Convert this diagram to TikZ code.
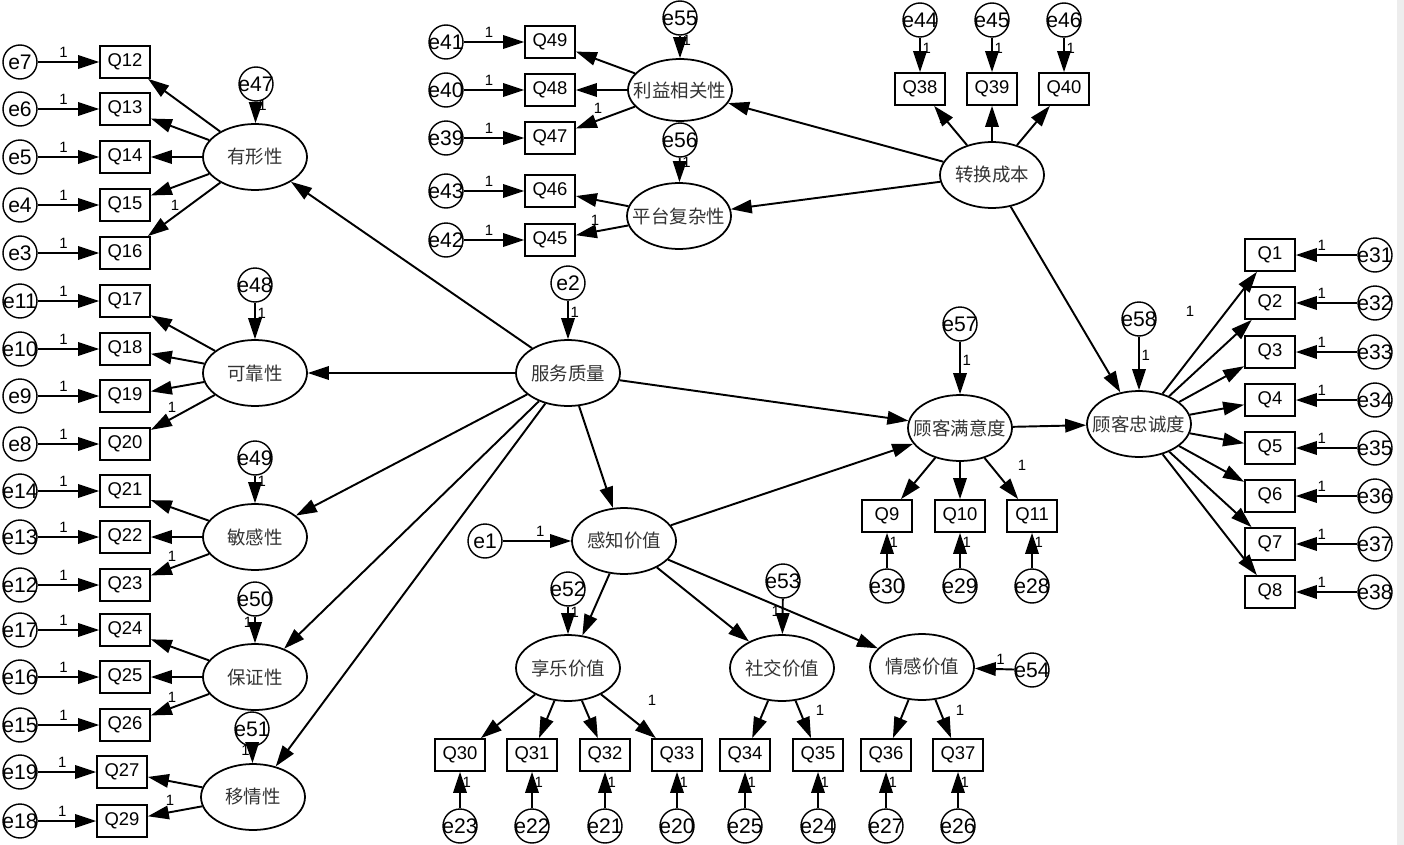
\documentclass[tikz,border=0pt]{standalone}
\usepackage{fontspec}
\setmainfont{Liberation Sans}
\newfontfamily\cjk{Noto Sans CJK SC}
\usetikzlibrary{shapes.geometric,arrows.meta}
\newcommand{\zw}[1]{\makebox[0pt]{#1}}
\tikzset{
  obs/.style={draw, rectangle, line width=1pt, minimum width=1cm, minimum height=0.64cm, inner sep=0pt, font=\fontsize{10.5}{12}\selectfont},
  err/.style={draw, circle, line width=0.8pt, minimum size=0.68cm, inner sep=0pt, font=\fontsize{12}{14}\selectfont},
  lat/.style={draw, ellipse, line width=1pt, minimum width=2.08cm, minimum height=1.32cm, inner sep=0pt, text=black!80, font=\cjk\fontsize{10.5}{12}\selectfont},
  one/.style={font=\fontsize{8.5}{9}\selectfont, inner sep=0pt},
  reg/.style={-{Triangle[length=4.2mm,width=2.7mm]}, line width=1.1pt},
}
\begin{document}
\begin{tikzpicture}[x=0.02cm, y=-0.02cm]
\useasboundingbox (0,0) rectangle (1404,845);
\fill[black!7] (1397,0) rectangle (1404,845);

% latent variables
\node[lat] (tangible) at (255,157) {\zw{有形性}};
\node[lat] (reliable) at (255,373) {\zw{可靠性}};
\node[lat] (sensitive) at (255,537) {\zw{敏感性}};
\node[lat] (assure) at (255,677) {\zw{保证性}};
\node[lat] (empathy) at (253,797) {\zw{移情性}};
\node[lat] (servq) at (568,373) {\zw{服务质量}};
\node[lat] (perval) at (624,541) {\zw{感知价值}};
\node[lat] (hedon) at (568,668) {\zw{享乐价值}};
\node[lat] (social) at (782,668) {\zw{社交价值}};
\node[lat] (emot) at (922,667) {\zw{情感价值}};
\node[lat] (satisf) at (960,428) {\zw{顾客满意度}};
\node[lat] (loyal) at (1139,424) {\zw{顾客忠诚度}};
\node[lat] (switch) at (992,175) {\zw{转换成本}};
\node[lat, minimum height=1.24cm] (benefit) at (680,90) {\zw{利益相关性}};
\node[lat] (complex) at (679,216) {\zw{平台复杂性}};

% left indicators
\foreach \q/\e/\y in {12/7/62, 13/6/109, 14/5/157, 15/4/205, 16/3/253, 17/11/301, 18/10/349, 19/9/396, 20/8/444, 21/14/491, 22/13/537, 23/12/585, 24/17/630, 25/16/677, 26/15/725}{
  \node[obs] (Q\q) at (125,\y) {Q\q};
  \node[err] (e\e) at (20,\y) {\zw{e\e}};
  \draw[reg] (e\e) -- node[one, above=2pt, pos=0.42] (w\e) {1} (Q\q);
}
\foreach \q/\e/\y in {27/19/772, 29/18/821}{
  \node[obs] (Q\q) at (122,\y) {Q\q};
  \node[err] (e\e) at (20,\y) {\zw{e\e}};
  \draw[reg] (e\e) -- node[one, above=2pt, pos=0.42] (w\e) {1} (Q\q);
}
\foreach \q in {12,...,16} \draw[reg] (tangible) -- (Q\q);
\foreach \q in {17,...,20} \draw[reg] (reliable) -- (Q\q);
\foreach \q in {21,...,23} \draw[reg] (sensitive) -- (Q\q);
\foreach \q in {24,...,26} \draw[reg] (assure) -- (Q\q);
\foreach \q in {27,29} \draw[reg] (empathy) -- (Q\q);
\node[one] (wTan) at (175,205) {1};
\node[one] (wRel) at (172,407) {1};
\node[one] (wSen) at (172,556) {1};
\node[one] (wAss) at (172,697) {1};
\node[one] (wEmp) at (170,800) {1};

% bottom indicators
\foreach \q/\e/\x in {30/23/460, 31/22/532, 32/21/605, 33/20/677, 34/25/745, 35/24/818, 36/27/886, 37/26/958}{
  \node[obs] (Q\q) at (\x,755) {Q\q};
  \node[err] (e\e) at (\x,826) {\zw{e\e}};
  \draw[reg] (e\e) -- node[one, right=1pt, pos=0.72] (w\e) {1} (Q\q);
}
\foreach \q in {30,...,33} \draw[reg] (hedon) -- (Q\q);
\foreach \q in {34,35} \draw[reg] (social) -- (Q\q);
\foreach \q in {36,37} \draw[reg] (emot) -- (Q\q);
\node[one] (wHed) at (652,700) {1};
\node[one] (wSoc) at (820,710) {1};
\node[one] (wEmo) at (960,710) {1};

% satisfaction indicators
\foreach \q/\e/\x in {9/30/887, 10/29/960, 11/28/1032}{
  \node[obs] (Q\q) at (\x,516) {Q\q};
  \node[err] (e\e) at (\x,586) {\zw{e\e}};
  \draw[reg] (e\e) -- node[one, right=1pt, pos=0.72] (w\e) {1} (Q\q);
  \draw[reg] (satisf) -- (Q\q);
}
\node[one] (wSat) at (1022,465) {1};

% switching cost indicators
\foreach \q/\e/\x in {38/44/920, 39/45/992, 40/46/1064}{
  \node[obs] (Q\q) at (\x,89) {Q\q};
  \node[err] (e\e) at (\x,20) {\zw{e\e}};
  \draw[reg] (e\e) -- node[one, right=1pt, pos=0.3] (w\e) {1} (Q\q);
  \draw[reg] (switch) -- (Q\q);
}
\node[one] (wSwi) at (943,118) {1};

% benefit and complexity indicators
\foreach \q/\e/\y in {49/41/42, 48/40/90, 47/39/138, 46/43/191, 45/42/240}{
  \node[obs] (Q\q) at (550,\y) {Q\q};
  \node[err] (e\e) at (446,\y) {\zw{e\e}};
  \draw[reg] (e\e) -- node[one, above=2pt, pos=0.42] (w\e) {1} (Q\q);
}
\foreach \q in {49,48,47} \draw[reg] (benefit) -- (Q\q);
\foreach \q in {46,45} \draw[reg] (complex) -- (Q\q);
\node[one] (wBen) at (598,108) {1};
\node[one] (wCom) at (595,220) {1};

% loyalty indicators
\foreach \i/\y in {1/255, 2/303, 3/352, 4/400, 5/448, 6/496, 7/544, 8/592}{
  \pgfmathtruncatemacro\k{30+\i}
  \node[obs] (Q\i) at (1270,\y) {Q\i};
  \node[err] (e\k) at (1375,\y) {\zw{e\k}};
  \draw[reg] (e\k) -- node[one, above=2pt, pos=0.58] (w\k) {1} (Q\i);
  \draw[reg] (loyal) -- (Q\i);
}
\node[one] (wLoy) at (1190,311) {1};

% disturbances
\node[err] (e47) at (256,84) {\zw{e47}};
\node[err] (e48) at (255,285) {\zw{e48}};
\node[err] (e49) at (255,458) {\zw{e49}};
\node[err] (e50) at (255,599) {\zw{e50}};
\node[err] (e51) at (252,729) {\zw{e51}};
\node[err] (e2) at (568,283) {\zw{e2}};
\node[err] (e1) at (485,541) {\zw{e1}};
\node[err] (e52) at (568,589) {\zw{e52}};
\node[err] (e53) at (783,581) {\zw{e53}};
\node[err] (e54) at (1032,670) {\zw{e54}};
\node[err] (e55) at (680,18) {\zw{e55}};
\node[err] (e56) at (680,140) {\zw{e56}};
\node[err] (e57) at (960,324) {\zw{e57}};
\node[err] (e58) at (1139,319) {\zw{e58}};
\draw[reg] (e47) -- node[one, right=1pt, pos=0.15] (w47) {1} (tangible);
\draw[reg] (e48) -- node[one, right=1pt, pos=0.3] (w48) {1} (reliable);
\draw[reg] (e49) -- node[one, right=1pt, pos=0.2] (w49) {1} (sensitive);
\draw[reg] (e50) -- node[one, left=1pt, pos=0.2] (w50) {1} (assure);
\draw[reg] (e51) -- node[one, left=1pt, pos=0.2] (w51) {1} (empathy);
\draw[reg] (e2) -- node[one, right=1pt, pos=0.3] (w2) {1} (servq);
\draw[reg] (e1) -- node[one, above=2pt, pos=0.55] (w1) {1} (perval);
\draw[reg] (e52) -- node[one, right=1pt, pos=0.2] (w52) {1} (hedon);
\draw[reg] (e53) -- node[one, left=1pt, pos=0.35] (w53) {1} (social);
\draw[reg] (e54) -- node[one, above=2pt, pos=0.35] (w54) {1} (emot);
\draw[reg] (e55) -- node[one, right=1pt, pos=0.2] (w55) {1} (benefit);
\draw[reg] (e56) -- node[one, right=1pt, pos=0.2] (w56) {1} (complex);
\draw[reg] (e57) -- node[one, right=1pt, pos=0.35] (w57) {1} (satisf);
\draw[reg] (e58) -- node[one, right=1pt, pos=0.35] (w58) {1} (loyal);

% structural paths
\draw[reg] (servq) -- (tangible);
\draw[reg] (servq) -- (reliable);
\draw[reg] (servq) -- (sensitive);
\draw[reg] (servq) -- (assure);
\draw[reg] (servq) -- (empathy);
\draw[reg] (servq) -- (perval);
\draw[reg] (servq) -- (satisf);
\draw[reg] (perval) -- (satisf);
\draw[reg] (perval) -- (hedon);
\draw[reg] (perval) -- (social);
\draw[reg] (perval) -- (emot);
\draw[reg] (satisf) -- (loyal);
\draw[reg] (switch) -- (loyal);
\draw[reg] (switch) -- (benefit);
\draw[reg] (switch) -- (complex);
\end{tikzpicture}
\end{document}
